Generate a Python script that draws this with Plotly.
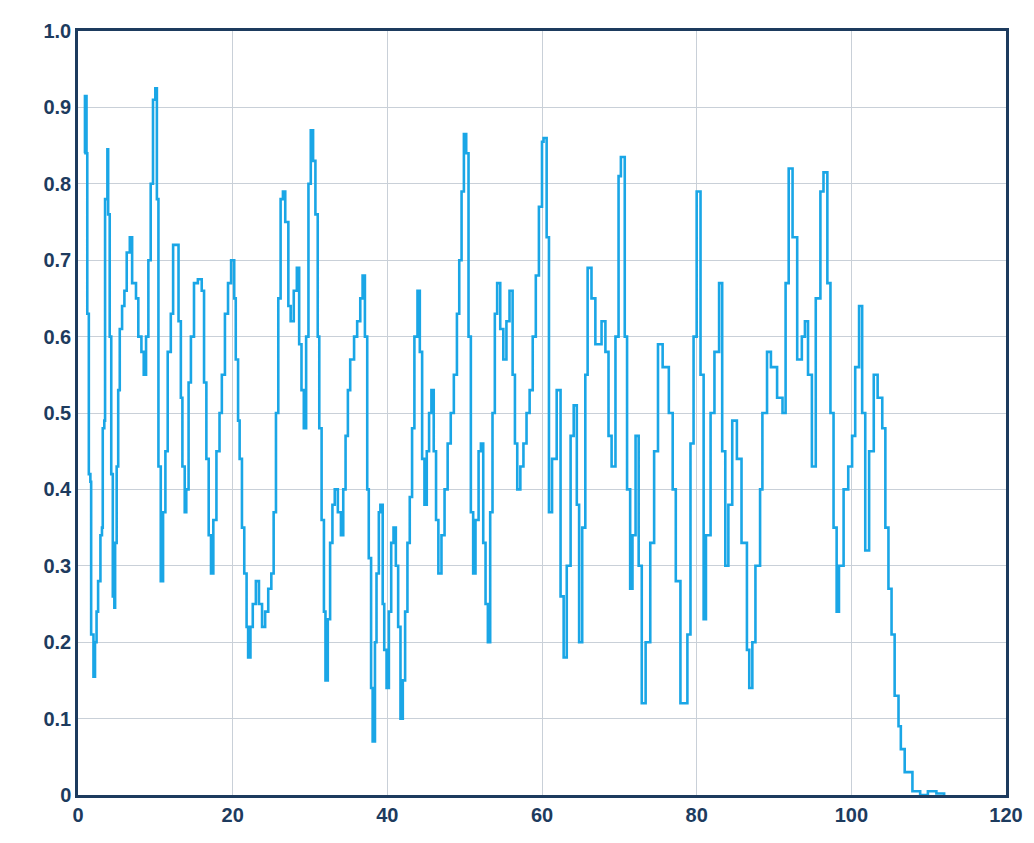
import plotly.graph_objects as go

x_vals = [0.8,0.9,1.1,1.2,1.3,1.4,1.6,1.7,2.0,2.2,2.4,2.6,2.9,3.1,3.2,3.4,3.5,3.7,3.8,3.9,4.1,4.3,4.5,4.7,4.8,5.0,5.2,5.4,5.7,6.0,6.3,6.7,7.0,7.5,7.8,8.2,8.5,8.8,9.1,9.4,9.7,10.0,10.2,10.4,10.7,11.0,11.3,11.6,12.0,12.3,12.7,13.0,13.3,13.5,13.8,14.0,14.3,14.6,15.0,15.5,16.0,16.3,16.6,16.9,17.2,17.5,17.9,18.3,18.6,19.0,19.4,19.8,20.2,20.4,20.7,20.9,21.2,21.5,21.8,22.0,22.3,22.6,23.0,23.4,23.8,24.2,24.6,25.0,25.3,25.6,25.9,26.2,26.5,26.8,27.2,27.5,27.9,28.3,28.6,28.9,29.2,29.5,29.8,30.1,30.4,30.7,31.0,31.2,31.5,31.8,32.0,32.3,32.6,32.9,33.2,33.6,34.0,34.3,34.6,34.9,35.2,35.7,36.1,36.5,36.8,37.1,37.4,37.6,37.9,38.1,38.4,38.6,38.9,39.1,39.4,39.6,39.9,40.2,40.5,40.8,41.1,41.4,41.7,42.0,42.3,42.6,42.9,43.2,43.5,43.9,44.2,44.5,44.8,45.1,45.4,45.7,46.0,46.3,46.6,47.0,47.4,47.8,48.2,48.6,49.0,49.3,49.6,49.9,50.2,50.5,50.8,51.1,51.4,51.8,52.1,52.4,52.7,53.0,53.3,53.6,53.9,54.2,54.6,55.0,55.4,55.8,56.2,56.5,56.8,57.2,57.6,58.0,58.4,58.8,59.2,59.6,60.0,60.2,60.6,60.9,61.3,61.9,62.4,62.8,63.2,63.7,64.1,64.5,64.8,65.2,65.6,65.9,66.4,66.9,67.7,68.2,68.6,69.0,69.5,69.9,70.2,70.7,71.0,71.4,71.7,72.1,72.5,72.9,73.4,74.0,74.5,75.0,75.6,76.4,76.9,77.3,77.9,78.3,78.8,79.2,79.6,80.0,80.5,80.9,81.2,81.8,82.3,82.9,83.3,83.7,84.1,84.6,85.2,85.8,86.5,86.8,87.2,87.6,88.2,88.5,89.1,89.6,90.4,91.1,91.5,91.9,92.4,93.0,93.6,94.0,94.4,94.9,95.4,96.0,96.4,96.9,97.3,97.7,98.1,98.4,99.0,99.6,100.1,100.5,101.0,101.4,101.8,102.3,102.9,103.4,104.0,104.4,104.8,105.2,105.6,106.1,106.4,106.9,107.9,108.9,109.9,111.0,112.0]
y_vals = [0.84,0.915,0.84,0.63,0.63,0.42,0.41,0.21,0.155,0.2,0.24,0.28,0.34,0.35,0.48,0.49,0.78,0.78,0.845,0.76,0.6,0.42,0.26,0.245,0.33,0.43,0.53,0.61,0.64,0.66,0.71,0.73,0.67,0.65,0.6,0.58,0.55,0.6,0.7,0.8,0.91,0.925,0.78,0.43,0.28,0.37,0.45,0.58,0.63,0.72,0.72,0.62,0.52,0.43,0.37,0.4,0.54,0.6,0.67,0.675,0.66,0.54,0.44,0.34,0.29,0.36,0.45,0.5,0.55,0.63,0.67,0.7,0.65,0.57,0.49,0.44,0.35,0.29,0.22,0.18,0.22,0.25,0.28,0.25,0.22,0.24,0.27,0.29,0.37,0.5,0.65,0.78,0.79,0.75,0.64,0.62,0.66,0.69,0.59,0.53,0.48,0.6,0.8,0.87,0.83,0.76,0.6,0.48,0.36,0.24,0.15,0.23,0.33,0.38,0.4,0.37,0.34,0.4,0.47,0.53,0.57,0.6,0.62,0.65,0.68,0.6,0.4,0.31,0.14,0.07,0.2,0.29,0.37,0.38,0.25,0.19,0.14,0.24,0.33,0.35,0.3,0.22,0.1,0.15,0.24,0.33,0.39,0.48,0.6,0.66,0.58,0.44,0.38,0.45,0.5,0.53,0.45,0.36,0.29,0.34,0.4,0.46,0.5,0.55,0.63,0.7,0.79,0.865,0.84,0.6,0.37,0.29,0.36,0.45,0.46,0.33,0.25,0.2,0.37,0.5,0.63,0.67,0.61,0.57,0.62,0.66,0.55,0.46,0.4,0.43,0.46,0.5,0.53,0.6,0.68,0.77,0.855,0.86,0.73,0.37,0.44,0.53,0.26,0.18,0.3,0.47,0.51,0.38,0.2,0.35,0.55,0.69,0.65,0.59,0.62,0.58,0.47,0.43,0.6,0.81,0.835,0.6,0.4,0.27,0.34,0.47,0.3,0.12,0.2,0.33,0.45,0.59,0.56,0.5,0.4,0.28,0.12,0.12,0.21,0.46,0.6,0.79,0.55,0.23,0.34,0.5,0.58,0.67,0.45,0.3,0.38,0.49,0.44,0.33,0.19,0.14,0.2,0.3,0.4,0.5,0.58,0.56,0.52,0.5,0.67,0.82,0.73,0.57,0.6,0.62,0.55,0.43,0.65,0.79,0.815,0.67,0.5,0.35,0.24,0.3,0.4,0.43,0.47,0.56,0.64,0.5,0.32,0.45,0.55,0.52,0.48,0.35,0.27,0.21,0.13,0.09,0.06,0.03,0.005,0.0,0.005,0.002,0.0]

x_ticks = [0, 20, 40, 60, 80, 100, 120]
y_ticks = [0, 0.1, 0.2, 0.3, 0.4, 0.5, 0.6, 0.7, 0.8, 0.9, 1.0]
y_labels = ["0", "0.1", "0.2", "0.3", "0.4", "0.5", "0.6", "0.7", "0.8", "0.9", "1.0"]

navy = "#1d3b5e"
tf = dict(size=20, color=navy, family="Liberation Sans", weight="bold")
fig = go.Figure(go.Scatter(x=x_vals, y=y_vals, mode="lines",
                           line=dict(color="#1aa6e6", width=2.6, shape="hv")))
fig.update_layout(
    width=1034, height=843, plot_bgcolor="white", paper_bgcolor="white",
    margin=dict(l=70, r=36, t=16, b=56), showlegend=False,
    font=dict(family="Liberation Sans", size=20, color=navy),
)
fig.update_xaxes(range=[0, 120], tickvals=x_ticks, showgrid=True, gridcolor="#c9d0d8",
                 gridwidth=1, showline=True, linecolor=navy, linewidth=2.5, mirror=True,
                 zeroline=False, ticks="", tickfont=tf)
fig.update_yaxes(range=[0, 1], tickvals=y_ticks, ticktext=y_labels, showgrid=True,
                 gridcolor="#c9d0d8", gridwidth=1, showline=True, linecolor=navy,
                 linewidth=2.5, mirror=True, zeroline=False, ticks="", tickfont=tf)
fig.write_html("out.html")
